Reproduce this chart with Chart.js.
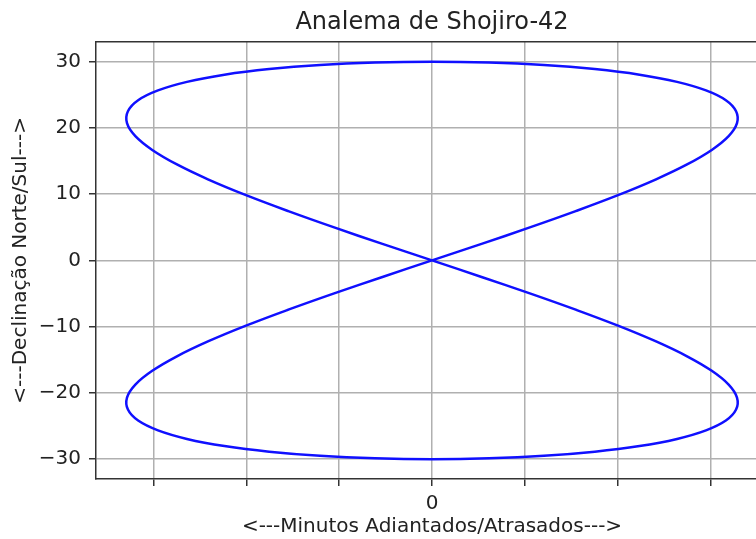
<!DOCTYPE html>
<html>
<head>
<meta charset="utf-8">
<script src="https://cdn.jsdelivr.net/npm/chart.js@4/dist/chart.umd.min.js"></script>
<style>
  html, body { margin: 0; padding: 0; background: #fff; overflow: hidden; }
  #wrap { width: 756px; height: 539px; overflow: hidden; }
</style>
</head>
<body>
<div id="wrap"><canvas id="analema" width="790" height="539"></canvas></div>
<script>
// curva: minutos (x) e declinação em graus (y)
const minutos = [
  0, 2.67, 5.27, 7.74, 10.02, 12.04, 13.74, 15.07, 15.98, 16.43, 16.38, 15.83, 14.76, 13.20, 11.18, 8.77, 6.03, 3.07, 0,
  -3.07, -6.03, -8.77, -11.18, -13.20, -14.76, -15.83, -16.38, -16.43, -15.98, -15.07, -13.74, -12.04, -10.02, -7.74, -5.27, -2.67, 0,
  2.67, 5.27, 7.74, 10.02, 12.04, 13.74, 15.07, 15.98, 16.43, 16.38, 15.83, 14.76, 13.20, 11.18, 8.77, 6.03, 3.07, 0,
  -3.07, -6.03, -8.77, -11.18, -13.20, -14.76, -15.83, -16.38, -16.43, -15.98, -15.07, -13.74, -12.04, -10.02, -7.74, -5.27, -2.67, 0
];
const declinacao = [
  0, 2.50, 4.98, 7.44, 9.85, 12.20, 14.48, 16.67, 18.75, 20.71, 22.52, 24.18, 25.66, 26.95, 28.03, 28.88, 29.50, 29.87, 30,
  29.87, 29.50, 28.88, 28.03, 26.95, 25.66, 24.18, 22.52, 20.71, 18.75, 16.67, 14.48, 12.20, 9.85, 7.44, 4.98, 2.50, 0,
  -2.50, -4.98, -7.44, -9.85, -12.20, -14.48, -16.67, -18.75, -20.71, -22.52, -24.18, -25.66, -26.95, -28.03, -28.88, -29.50, -29.87, -30,
  -29.87, -29.50, -28.88, -28.03, -26.95, -25.66, -24.18, -22.52, -20.71, -18.75, -16.67, -14.48, -12.20, -9.85, -7.44, -4.98, -2.50, 0
];
const ticksX = [-15, -10, -5, 0, 5, 10, 15];
const rotulosX = ['', '', '', '0', '', '', ''];
const ticksY = [-30, -20, -10, 0, 10, 20, 30];

Chart.defaults.font.family = "'DejaVu Sans', sans-serif";
Chart.defaults.color = '#222';

const boxPlugin = {
  id: 'box',
  afterDatasetsDraw(chart) {
    const { ctx, chartArea: a } = chart;
    ctx.save();
    ctx.strokeStyle = '#333';
    ctx.lineWidth = 1.5;
    ctx.beginPath();
    ctx.moveTo(a.left, a.top);
    ctx.lineTo(a.right, a.top);
    ctx.lineTo(a.right, a.bottom);
    ctx.stroke();
    ctx.restore();
  }
};

const fmtY = v => v < 0 ? '\u2212' + Math.abs(v) : String(v);

new Chart(document.getElementById('analema'), {
  type: 'scatter',
  data: {
    datasets: [{
      data: minutos.map((x, i) => ({ x, y: declinacao[i] })),
      showLine: true,
      borderColor: '#1010ff',
      borderWidth: 2.5,
      pointRadius: 0,
      tension: 0.4,
      fill: false
    }]
  },
  options: {
    responsive: false,
    animation: false,
    layout: { padding: { left: 0, right: 22, top: 0, bottom: 0 } },
    plugins: {
      legend: { display: false },
      tooltip: { enabled: false },
      title: {
        display: true,
        text: 'Analema de Shojiro-42',
        fullSize: false,
        font: { size: 24, weight: 'normal' },
        color: '#222',
        padding: { top: 8, bottom: 5 }
      }
    },
    scales: {
      x: {
        type: 'linear',
        min: -18.1,
        max: 18.1,
        afterBuildTicks: s => { s.ticks = ticksX.map(v => ({ value: v })); },
        afterFit: s => { s.height = 60; },
        ticks: {
          callback: v => rotulosX[ticksX.indexOf(v)] ?? '',
          font: { size: 20 },
          color: '#222',
          padding: 6,
          maxRotation: 0,
          autoSkip: false
        },
        grid: { color: '#b0b0b0', lineWidth: 1.5, tickLength: 7, tickColor: '#333', tickWidth: 1.5 },
        border: { color: '#333', width: 1.5 },
        title: {
          display: true,
          text: '<---Minutos Adiantados/Atrasados--->',
          font: { size: 20 },
          color: '#222',
          padding: { top: 0, bottom: 0 }
        }
      },
      y: {
        type: 'linear',
        min: -33,
        max: 33,
        afterBuildTicks: s => { s.ticks = ticksY.map(v => ({ value: v })); },
        afterFit: s => { s.width = 96; },
        ticks: {
          callback: v => fmtY(v),
          font: { size: 20 },
          color: '#222',
          padding: 8,
          autoSkip: false
        },
        grid: { color: '#b0b0b0', lineWidth: 1.5, tickLength: 7, tickColor: '#333', tickWidth: 1.5 },
        border: { color: '#333', width: 1.5 },
        title: {
          display: true,
          text: '<---Declinação Norte/Sul--->',
          font: { size: 20 },
          color: '#222',
          padding: { top: 9, bottom: 0 }
        }
      }
    }
  },
  plugins: [boxPlugin]
});
</script>
</body>
</html>
